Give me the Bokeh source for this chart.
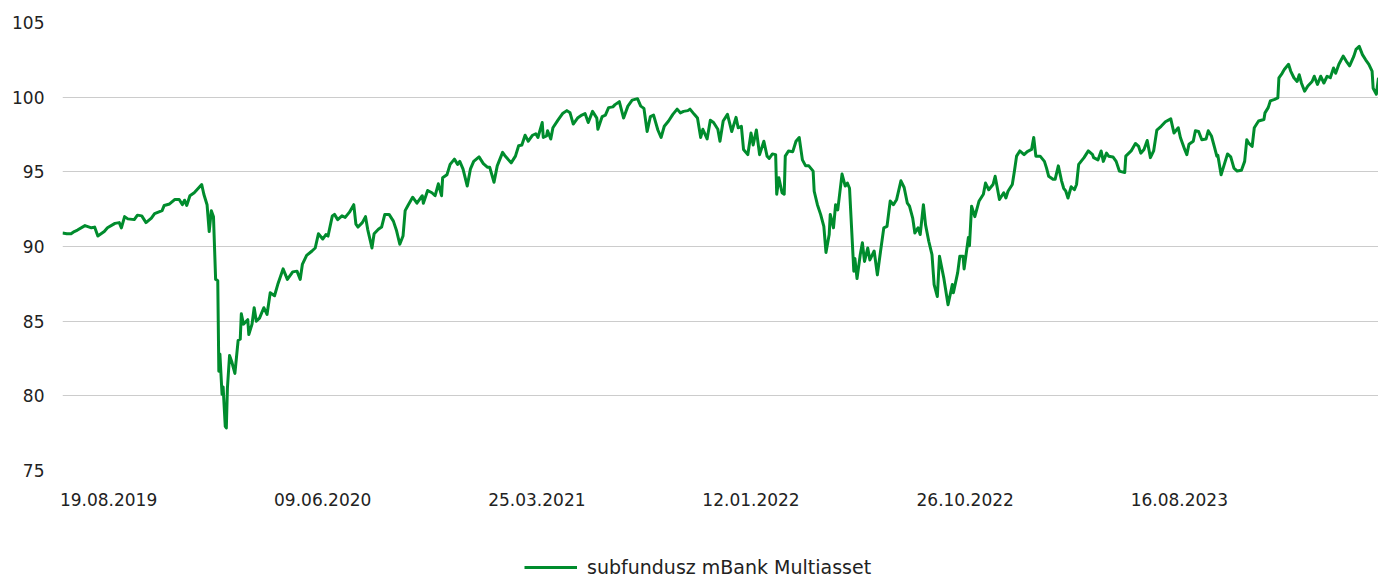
from bokeh.plotting import figure
from bokeh.models import Range1d, FixedTicker, Legend, LegendItem
from bokeh.layouts import column
from bokeh.embed import file_html
from bokeh.resources import INLINE

# trading-day index since 19.08.2019 and fund value
days = [0, 4, 8, 11, 14, 21, 27, 30, 33, 39, 42, 49, 53, 55, 58, 61, 67, 70, 74, 78,
        83, 86, 93, 95, 100, 105, 109, 112, 114, 116, 119, 123, 130, 132, 135, 137, 139, 141, 143, 145,
        146, 147, 149, 150, 152, 153, 154, 156, 158, 161, 164, 166, 167, 169, 173, 174, 177, 179, 181, 184,
        188, 191, 194, 198, 201,
        206, 210, 215, 219, 222, 224, 228, 233, 236, 239, 243, 246, 248, 252, 254, 257, 261, 264, 268, 272,
        274, 276, 280, 283, 285, 289, 291, 295, 298, 301, 305, 309, 312, 315, 318, 320, 323, 327, 331, 336,
        337, 341, 345, 348, 351, 354, 355, 359, 362, 366, 369, 371, 374, 378, 381, 384, 389, 393, 397,
        399, 403, 406, 411, 413, 419, 423, 426, 429, 432, 435, 439, 442, 444, 448, 449, 452, 453, 456, 458,
        463, 467, 471, 474, 477, 481, 485, 488, 491, 495, 499, 500, 504, 507, 510, 514, 516, 520, 524, 528,
        532, 537, 540, 543, 546, 549, 552, 556, 559, 562, 566, 570, 574, 577, 580, 584, 586, 590, 593, 596,
        598, 602, 605, 608, 612, 614,
        617, 621, 625, 629, 631, 634, 636, 640, 643, 645, 648, 651, 655, 658, 660, 663, 666, 667, 669, 672,
        674, 675, 678, 682, 685, 688, 691, 694, 697, 701, 702, 705, 708, 711, 713, 716, 717, 720, 722, 724,
        728, 731, 733, 735, 739, 740, 742, 745, 747, 749, 752, 754, 758, 761, 764, 767, 770, 773, 776, 779,
        783, 786, 789, 791, 794, 796, 799, 801, 804, 806, 809, 812, 814, 817, 819,
        823, 827, 831, 832, 836, 838, 841, 842, 846, 847, 849, 852, 856, 860, 862, 865, 869, 871, 875, 879,
        881, 883, 887, 889, 891, 894, 898, 901, 905, 907, 909, 913, 917, 919, 921, 925, 927, 930, 933, 935,
        937, 939, 942, 945, 947, 949, 954, 958, 962, 963, 967, 970, 972, 975, 977, 981, 984, 987, 992, 993,
        998, 1002, 1005, 1007,
        1010, 1013, 1016, 1019, 1022, 1026, 1030, 1035, 1038, 1042, 1044, 1048, 1050, 1052, 1056, 1058, 1061,
        1064, 1068, 1070, 1073, 1076, 1078, 1079, 1082, 1085, 1088, 1091, 1094, 1097, 1101, 1104, 1106, 1108,
        1111, 1113, 1117, 1122, 1123, 1126, 1128, 1132, 1135, 1136, 1139, 1141, 1145, 1147, 1150, 1153, 1155,
        1157, 1160, 1163, 1167, 1169, 1172, 1175, 1178, 1181, 1184, 1187, 1189, 1192, 1196, 1199, 1202, 1206,
        1208, 1211, 1214, 1217, 1220, 1223, 1224, 1227, 1229]

values = [90.9, 90.85, 90.85, 91.0, 91.1, 91.4, 91.25, 91.3, 90.7, 91.0, 91.25, 91.55, 91.6, 91.25, 92.0, 91.85, 91.8, 92.1, 92.05, 91.6,
          91.9, 92.2, 92.4, 92.75, 92.85, 93.15, 93.15, 92.8, 93.1, 92.75, 93.4, 93.6, 94.15, 93.5, 92.8, 91.0, 92.4, 92.0, 87.8, 87.7,
          81.65, 82.8, 80.1, 80.6, 77.95, 77.85, 80.5, 82.7, 82.3, 81.5, 83.7, 83.8, 85.5, 84.8, 85.1, 84.1, 84.8, 85.9, 85.0, 85.2,
          85.9, 85.45, 86.9, 86.7, 87.45,
          88.5, 87.8, 88.3, 88.35, 87.8, 88.8, 89.4, 89.7, 89.9, 90.85, 90.5, 90.8, 90.7, 92.05, 92.15, 91.8, 92.05, 91.95, 92.3, 92.8,
          91.5, 91.3, 91.6, 92.0, 91.15, 89.9, 90.85, 91.15, 91.3, 92.15, 92.15, 91.7, 91.05, 90.15, 90.7, 92.4, 92.8, 93.3, 92.9, 93.4,
          92.9, 93.75, 93.6, 93.4, 94.2, 93.4, 94.6, 94.8, 95.5, 95.85, 95.5, 95.7, 95.2, 94.05, 95.2, 95.7, 96.0, 95.55, 95.3,
          95.3, 94.3, 95.4, 96.3, 96.1, 95.6, 96.05, 96.75, 96.8, 97.45, 97.05, 97.45, 97.55, 97.3, 98.3, 97.3, 97.4, 97.75, 97.2, 97.95,
          98.5, 98.9, 99.1, 98.95, 98.2, 98.6, 98.8, 98.9, 98.3, 99.05, 98.6, 97.85, 98.7, 98.8, 99.3, 99.35, 99.5, 99.7, 98.6, 99.4,
          99.8, 99.9, 99.4, 99.25, 97.7, 98.7, 98.8, 97.8, 97.3, 98.05, 98.4, 98.85, 99.2, 98.95, 99.05, 99.1, 99.2, 98.85, 98.6, 97.3,
          97.85, 97.2, 98.45, 98.3, 97.85, 97.05,
          98.4, 98.85, 97.7, 98.65, 97.95, 98.05, 96.5, 96.15, 97.6, 96.8, 97.8, 96.15, 97.05, 96.05, 95.9, 96.2, 96.15, 93.5, 94.6, 93.6,
          93.5, 96.05, 96.4, 96.35, 97.05, 97.3, 95.8, 95.4, 95.4, 95.05, 93.7, 92.8, 92.15, 91.35, 89.6, 90.8, 92.15, 91.25, 92.8, 92.45,
          94.85, 94.05, 94.25, 93.9, 88.35, 89.2, 87.85, 89.45, 90.25, 89.0, 89.9, 89.1, 89.7, 88.1, 89.7, 91.25, 91.35, 93.05, 92.8, 93.15,
          94.4, 93.95, 92.9, 92.7, 91.9, 90.9, 91.25, 90.8, 92.8, 91.45, 90.35, 89.45, 87.45, 86.65, 89.35,
          87.9, 86.1, 87.45, 86.9, 88.25, 89.35, 89.35, 88.5, 90.6, 90.05, 92.7, 92.0, 93.05, 93.5, 94.25, 93.8, 94.15, 94.7, 93.15, 93.6,
          93.25, 93.7, 94.15, 95.05, 96.05, 96.4, 96.15, 96.35, 96.5, 97.3, 96.05, 96.05, 95.7, 95.25, 94.7, 94.5, 94.5, 95.4, 94.4, 93.9,
          93.7, 93.25, 94.0, 93.8, 94.15, 95.5, 95.95, 96.4, 96.15, 95.95, 95.8, 96.4, 95.7, 96.25, 96.05, 96.0, 95.7, 95.05, 94.95, 96.05,
          96.4, 96.9, 96.7, 96.25,
          96.5, 97.1, 95.95, 96.4, 97.8, 98.05, 98.35, 98.55, 97.6, 97.95, 97.3, 96.5, 96.15, 96.85, 97.05, 97.75, 97.7,
          97.15, 97.2, 97.75, 97.4, 96.6, 96.05, 96.1, 94.8, 95.5, 96.2, 96.0, 95.25, 95.05, 95.1, 95.7, 97.15, 96.9,
          96.7, 97.95, 98.4, 98.5, 98.95, 99.3, 99.75, 99.85, 99.95, 101.3, 101.6, 101.85, 102.2, 101.75, 101.3, 101.05, 101.5,
          100.95, 100.4, 100.75, 101.05, 101.4, 100.85, 101.4, 100.95, 101.4, 101.3, 101.95, 101.6, 102.2, 102.75, 102.4, 102.1, 102.75,
          103.2, 103.4, 102.85, 102.5, 102.2, 101.75, 100.6, 100.2, 101.3]

tick_days = [0, 200, 400, 600, 800, 1000]
tick_labels = ["19.08.2019", "09.06.2020", "25.03.2021", "12.01.2022", "26.10.2022", "16.08.2023"]
y_ticks = [75, 80, 85, 90, 95, 100, 105]
series_name = "subfundusz mBank Multiasset"

LABEL_SHIFT = 43  # labels are drawn a little to the right of their data point
FONT = "DejaVu Sans"
TEXT = "#222222"
GREEN = "#008c2d"

p = figure(width=1378, height=540, output_backend="svg", toolbar_location=None,
           x_range=Range1d(0, 1229), y_range=Range1d(75, 105),
           min_border_left=62, min_border_right=0, min_border_top=22, min_border_bottom=70)
p.outline_line_color = None

p.line(days, values, line_color=GREEN, line_width=3, line_join="round")

shifted = [d + LABEL_SHIFT for d in tick_days]
p.xaxis.ticker = FixedTicker(ticks=shifted)
p.xaxis.major_label_overrides = {s: lab for s, lab in zip(shifted, tick_labels)}
p.yaxis.ticker = FixedTicker(ticks=y_ticks)

for ax in (p.xaxis[0], p.yaxis[0]):
    ax.axis_line_color = None
    ax.major_tick_line_color = None
    ax.minor_tick_line_color = None
    ax.major_tick_out = 0
    ax.major_tick_in = 0
    ax.major_label_text_font = FONT
    ax.major_label_text_font_size = "17px"
    ax.major_label_text_color = TEXT
p.xaxis.major_label_standoff = 22
p.yaxis.major_label_standoff = 18

p.xgrid.visible = False
p.ygrid.ticker = FixedTicker(ticks=y_ticks)
p.ygrid.grid_line_color = "#cccccc"
p.ygrid.grid_line_width = 1

# legend strip below the chart (its line lies outside this strip's ranges, only the key shows)
q = figure(width=1378, height=38, output_backend="svg", toolbar_location=None,
           x_axis_location=None, y_axis_location=None,
           x_range=Range1d(-2, -1), y_range=Range1d(-2, -1),
           min_border_left=0, min_border_right=0, min_border_top=0, min_border_bottom=0)
q.outline_line_color = None
q.xgrid.visible = False
q.ygrid.visible = False
key = q.line(days, values, line_color=GREEN, line_width=3)
legend = Legend(items=[LegendItem(label=series_name, renderers=[key])],
                location=(462, 0), orientation="horizontal",
                glyph_width=53, glyph_height=20, label_standoff=10,
                padding=0, margin=0, spacing=0,
                border_line_color=None, background_fill_alpha=0,
                label_text_font=FONT, label_text_font_size="19px", label_text_color=TEXT)
q.add_layout(legend)

open("out.html", "w").write(file_html(column(p, q, spacing=0), INLINE))
